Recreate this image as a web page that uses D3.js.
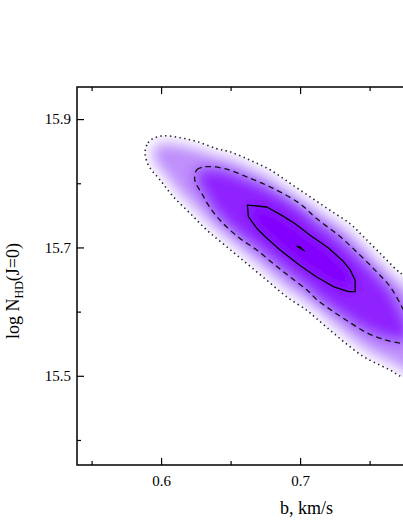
<!DOCTYPE html>
<html>
<head>
<meta charset="utf-8">
<script src="https://cdn.jsdelivr.net/npm/d3@7"></script>
<style>
    body { margin: 0; background: #fff; }
    svg text { font-family: "Liberation Serif", "Times New Roman", serif; fill: #000; }
</style>
</head>
<body>
<div id="chart"></div>
<script>
// confidence regions in the (b, log N) plane
// b in km/s, N = log N_HD(J=0)
var peakB = [0.6975, 0.7000, 0.7035, 0.6995];
var peakN = [15.702, 15.701, 15.694, 15.699];

var solidB = [0.6621, 0.6760, 0.6868, 0.6964, 0.7072, 0.7204, 0.7312, 0.7360, 0.7396, 0.7396,
              0.7347, 0.7240, 0.7120, 0.7000, 0.6856, 0.6748, 0.6688, 0.6628];
var solidN = [15.766, 15.763, 15.750, 15.737, 15.719, 15.699, 15.678, 15.665, 15.649, 15.631,
              15.631, 15.639, 15.654, 15.672, 15.696, 15.717, 15.730, 15.748];

var dashedB = [0.6241, 0.6257, 0.6295, 0.6352, 0.6472, 0.6616, 0.6807, 0.7000, 0.7119, 0.7287,
               0.7431, 0.7551, 0.7647, 0.7731, 0.7783, 0.7805, 0.7776, 0.7731, 0.7598, 0.7479,
               0.7359, 0.7239, 0.7119, 0.7048, 0.6928, 0.6807, 0.6688, 0.6568, 0.6448, 0.6352,
               0.6293, 0.6252];
var dashedN = [15.808, 15.821, 15.825, 15.826, 15.822, 15.810, 15.792, 15.768, 15.745, 15.717,
               15.688, 15.662, 15.639, 15.608, 15.585, 15.567, 15.554, 15.551, 15.557, 15.567,
               15.583, 15.600, 15.619, 15.634, 15.654, 15.675, 15.696, 15.714, 15.737, 15.762,
               15.784, 15.799];

var dottedB = [0.5885, 0.5906, 0.5945, 0.6017, 0.6137, 0.6257, 0.6400, 0.6496, 0.6640, 0.6784,
               0.6928, 0.7071, 0.7215, 0.7359, 0.7455, 0.7575, 0.7695, 0.7741, 0.7934, 0.8115,
               0.8208, 0.8187, 0.8042, 0.7862, 0.7731, 0.7647, 0.7551, 0.7455, 0.7337, 0.7227,
               0.7119, 0.7048, 0.6904, 0.6760, 0.6616, 0.6472, 0.6329, 0.6209, 0.6088, 0.5993,
               0.5909];
var dottedN = [15.849, 15.863, 15.870, 15.874, 15.871, 15.865, 15.854, 15.849, 15.836, 15.821,
               15.800, 15.779, 15.758, 15.737, 15.717, 15.691, 15.665, 15.657, 15.618, 15.571,
               15.532, 15.501, 15.486, 15.487, 15.498, 15.509, 15.519, 15.530, 15.549, 15.569,
               15.589, 15.602, 15.623, 15.649, 15.675, 15.701, 15.727, 15.753, 15.779, 15.805,
               15.828];

var xMajor = [0.6, 0.7];
var xMinor = [0.55, 0.65, 0.75];
var yMajor = [15.5, 15.7, 15.9];
var yMinor = [15.4, 15.6, 15.8];

function pairs(bs, ns) {
    return bs.map(function (b, i) { return [b, ns[i]]; });
}

var width = 403, height = 522;
var margin = { left: 77, top: 87, right: 522.5, bottom: 465 };

var x = d3.scaleLinear().domain([0.5395, 0.86]).range([margin.left, margin.right]);
var y = d3.scaleLinear().domain([15.361, 15.95]).range([margin.bottom, margin.top]);

var svg = d3.select("#chart").append("svg")
    .attr("width", width)
    .attr("height", height);

var defs = svg.append("defs");
defs.append("clipPath").attr("id", "plot-clip")
    .append("rect")
    .attr("x", margin.left).attr("y", margin.top)
    .attr("width", margin.right - margin.left).attr("height", margin.bottom - margin.top);

var smooth = d3.line().x(function (d) { return x(d[0]); }).y(function (d) { return y(d[1]); })
    .curve(d3.curveCatmullRomClosed);
var poly = d3.line().x(function (d) { return x(d[0]); }).y(function (d) { return y(d[1]); })
    .curve(d3.curveLinearClosed);

var dotted = pairs(dottedB, dottedN);
var dashed = pairs(dashedB, dashedN);
var solid = pairs(solidB, solidN);
var peak = pairs(peakB, peakN);

defs.append("clipPath").attr("id", "outer-clip")
    .append("path").attr("d", smooth(dotted));

var blur = defs.append("filter").attr("id", "soft")
    .attr("x", "-20%").attr("y", "-20%").attr("width", "140%").attr("height", "140%");
blur.append("feGaussianBlur").attr("stdDeviation", 7);

var plot = svg.append("g").attr("clip-path", "url(#plot-clip)");

// colour shading of the likelihood, fading to white at the outer contour
var shade = plot.append("g").attr("clip-path", "url(#outer-clip)")
    .append("g").attr("filter", "url(#soft)");
shade.append("path").attr("d", smooth(dotted))
    .attr("fill", "#c08ffb").attr("stroke", "#fff").attr("stroke-width", 12);
shade.append("path").attr("d", smooth(dashed)).attr("fill", "#9020ff");
shade.append("path").attr("d", poly(solid)).attr("fill", "#8200ff");
shade.append("path").attr("d", poly(peak)).attr("fill", "#8000ff");

// contour lines
plot.append("path").attr("d", smooth(dotted))
    .attr("fill", "none").attr("stroke", "#222").attr("stroke-width", 1.6)
    .attr("stroke-dasharray", "1.4,3.4");
plot.append("path").attr("d", smooth(dashed))
    .attr("fill", "none").attr("stroke", "#111").attr("stroke-width", 1.3)
    .attr("stroke-dasharray", "5.5,4");
plot.append("path").attr("d", poly(solid))
    .attr("fill", "none").attr("stroke", "#000").attr("stroke-width", 1.3)
    .attr("stroke-linejoin", "round");
plot.append("path").attr("d", poly(peak))
    .attr("fill", "#000").attr("stroke", "#000").attr("stroke-width", 1);

// axes, ticks point inward
function addAxis(axis, tx, ty, values, size, labels) {
    var g = svg.append("g")
        .attr("transform", "translate(" + tx + "," + ty + ")")
        .call(axis.tickValues(values).tickSizeInner(-size).tickSizeOuter(0)
            .tickFormat(labels ? d3.format(".1f") : ""));
    g.select(".domain").remove();
    g.selectAll("line").attr("stroke", "#000").attr("stroke-width", 1.2);
    g.selectAll("text").style("font-family", "'Liberation Serif', serif").style("font-size", "15px").attr("fill", "#000");
    return g;
}

addAxis(d3.axisBottom(x).tickPadding(10), 0, margin.bottom, xMajor, 7, true);
addAxis(d3.axisBottom(x), 0, margin.bottom, xMinor, 4, false);
addAxis(d3.axisTop(x), 0, margin.top, xMajor, 7, false);
addAxis(d3.axisTop(x), 0, margin.top, xMinor, 4, false);
addAxis(d3.axisLeft(y).tickPadding(6), margin.left, 0, yMajor, 7, true);
addAxis(d3.axisLeft(y), margin.left, 0, yMinor, 4, false);

svg.append("rect")
    .attr("x", margin.left).attr("y", margin.top)
    .attr("width", margin.right - margin.left).attr("height", margin.bottom - margin.top)
    .attr("fill", "none").attr("stroke", "#000").attr("stroke-width", 1.5);

// axis titles
svg.append("text")
    .attr("x", 306.5).attr("y", 514)
    .attr("text-anchor", "middle")
    .style("font-size", "18px")
    .text("b, km/s");

var yt = svg.append("text")
    .attr("transform", "translate(18.5,291) rotate(-90)")
    .attr("text-anchor", "middle")
    .style("font-size", "18px");
yt.append("tspan").text("log N");
yt.append("tspan").attr("dy", 4).style("font-size", "12px").text("HD");
yt.append("tspan").attr("dy", -4).text("(J=0)");
</script>
</body>
</html>
